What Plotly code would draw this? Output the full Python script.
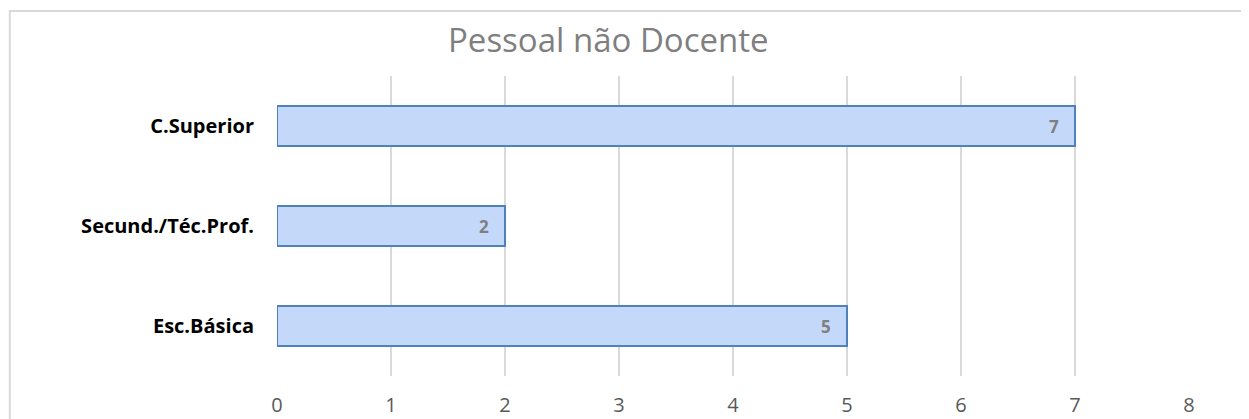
import plotly.graph_objects as go

categorias = ["Esc.Básica", "Secund./Téc.Prof.", "C.Superior"]
valores = [5, 2, 7]
titulo = "Pessoal não Docente"

fig = go.Figure()
fig.add_trace(go.Bar(
    x=valores, y=categorias, orientation="h",
    marker=dict(color="#c4d8fa", line=dict(color="#4f81bd", width=2)),
    text=valores, textposition="inside", insidetextanchor="end",
    textfont=dict(family="Open Sans", size=17, color="#7f7f7f", weight="bold"),
    texttemplate="%{text}\u00a0\u00a0\u00a0",
))

# the page has an 8px body margin, so the figure is a bit smaller
fig.update_layout(
    width=1241, height=411,
    margin=dict(l=269, r=60, t=68, b=43),
    plot_bgcolor="white", paper_bgcolor="white",
    bargap=0.6, showlegend=False,
    annotations=[dict(text=titulo, xref="paper", yref="paper", x=0.363, y=1.12,
                      xanchor="center", yanchor="middle", showarrow=False,
                      font=dict(family="Open Sans", size=33, color="#7f7f7f"))],
    shapes=[dict(type="rect", xref="paper", yref="paper", x0=-0.293, x1=1.3,
                 y0=-0.3, y1=1.217, line=dict(color="#d9d9d9", width=2))],
)
fig.update_xaxes(range=[0, 8], dtick=1, showgrid=True, gridcolor="#d9d9d9", gridwidth=1.5,
                 zeroline=False, showline=False, ticklabelstandoff=15, automargin=False,
                 tickfont=dict(family="Open Sans", size=20, color="#595959"))
fig.update_yaxes(showgrid=False, ticklabelstandoff=22, automargin=False,
                 tickfont=dict(family="Open Sans", size=20, color="black", weight="bold"))

fig.write_html("out.html")
